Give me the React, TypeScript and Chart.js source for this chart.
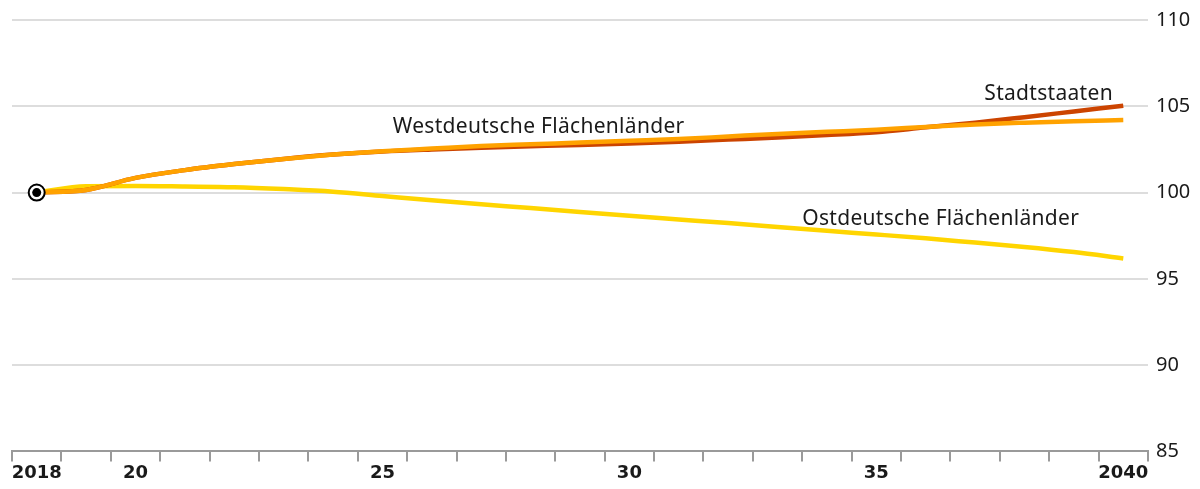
import React, { useEffect, useRef } from "react";
import { Chart, registerables } from "chart.js";

Chart.register(...registerables);

const years = [
  "2018", "2019", "2020", "2021", "2022", "2023", "2024", "2025", "2026", "2027", "2028", "2029",
  "2030", "2031", "2032", "2033", "2034", "2035", "2036", "2037", "2038", "2039", "2040",
];
const xTickLabels: Record<string, string> = {
  "2018": "2018", "2020": "20", "2025": "25", "2030": "30", "2035": "35", "2040": "2040",
};

const westdeutsche = [
  100, 100.15, 100.85, 101.3, 101.65, 101.95, 102.2, 102.4, 102.55, 102.7, 102.8, 102.9,
  103.0, 103.1, 103.25, 103.4, 103.52, 103.64, 103.8, 103.95, 104.05, 104.13, 104.2,
];
const stadtstaaten = [
  100, 100.15, 100.85, 101.3, 101.65, 101.95, 102.2, 102.38, 102.5, 102.6, 102.68, 102.76,
  102.85, 102.95, 103.07, 103.19, 103.33, 103.5, 103.78, 104.05, 104.37, 104.7, 105.03,
];
const ostdeutsche = [
  100, 100.37, 100.38, 100.35, 100.31, 100.2, 100.05, 99.8, 99.55, 99.32, 99.1, 98.87,
  98.65, 98.44, 98.23, 98.0, 97.78, 97.57, 97.35, 97.1, 96.85, 96.55, 96.18,
];

const yMin = 85;
const yMax = 110;
const yStep = 5;

// label anchors in data coordinates (category index, value) at text baseline
const seriesLabels = [
  { text: "Westdeutsche Flächenländer", x: 7.21, y: 103.47, align: "left" },
  { text: "Stadtstaaten", x: 21.79, y: 105.34, align: "right" },
  { text: "Ostdeutsche Flächenländer", x: 15.5, y: 98.11, align: "left" },
];

const FONT = "'Noto Sans', sans-serif";

const overlayPlugin = {
  id: "overlay",
  afterDatasetsDraw(chart: any) {
    const ctx = chart.ctx;
    const xs = chart.scales.x;
    const ys = chart.scales.y;
    ctx.save();
    ctx.fillStyle = "#1a1a1a";
    ctx.font = `21px ${FONT}`;
    (ctx as any).letterSpacing = "0.3px";
    ctx.textBaseline = "alphabetic";
    for (const l of seriesLabels) {
      ctx.textAlign = l.align as CanvasTextAlign;
      ctx.fillText(l.text, xs.getPixelForValue(l.x), ys.getPixelForValue(l.y));
    }
    (ctx as any).letterSpacing = "0px";
    const px = xs.getPixelForValue(0);
    const py = ys.getPixelForValue(westdeutsche[0]);
    ctx.beginPath();
    ctx.arc(px, py, 8, 0, Math.PI * 2);
    ctx.fillStyle = "#ffffff";
    ctx.fill();
    ctx.lineWidth = 2;
    ctx.strokeStyle = "#000000";
    ctx.stroke();
    ctx.beginPath();
    ctx.arc(px, py, 4.5, 0, Math.PI * 2);
    ctx.fillStyle = "#000000";
    ctx.fill();
    ctx.restore();
  },
};

export default function App() {
  const ref = useRef<HTMLCanvasElement>(null);
  useEffect(() => {
    document.body.style.margin = "0";
    const chart = new Chart(ref.current!, {
      type: "line",
      data: {
        labels: years,
        datasets: [
          {
            label: "Westdeutsche Flächenländer",
            data: westdeutsche,
            borderColor: "#ffa200",
            borderWidth: 4.5,
            pointRadius: 0,
            cubicInterpolationMode: "monotone",
          },
          {
            label: "Stadtstaaten",
            data: stadtstaaten,
            borderColor: "#cc4400",
            borderWidth: 4.5,
            pointRadius: 0,
            cubicInterpolationMode: "monotone",
          },
          {
            label: "Ostdeutsche Flächenländer",
            data: ostdeutsche,
            borderColor: "#ffd500",
            borderWidth: 4.5,
            pointRadius: 0,
            cubicInterpolationMode: "monotone",
          },
        ],
      },
      options: {
        animation: false,
        responsive: false,
        maintainAspectRatio: false,
        layout: { padding: { top: 20, left: 12, right: 1.7, bottom: 4 } },
        plugins: { legend: { display: false }, tooltip: { enabled: false } },
        scales: {
          x: {
            type: "category",
            offset: true,
            grid: {
              offset: true,
              drawOnChartArea: false,
              drawTicks: true,
              tickLength: 10,
              color: "#9a9a9a",
              lineWidth: 2,
            },
            border: { display: true, color: "#9a9a9a", width: 2 },
            ticks: {
              autoSkip: false,
              maxRotation: 0,
              padding: 1,
              color: "#1a1a1a",
              font: { family: "'DejaVu Sans', sans-serif", size: 18, weight: "bold" },
              callback: (_v: any, i: number) => xTickLabels[years[i]] ?? "",
            },
          },
          y: {
            position: "right",
            min: yMin,
            max: yMax,
            grid: { color: "#dddddd", lineWidth: 2, drawTicks: false },
            border: { display: false },
            ticks: {
              stepSize: yStep,
              padding: 8,
              color: "#1a1a1a",
              font: { family: FONT, size: 20 },
            },
          },
        },
      },
      plugins: [overlayPlugin],
    });
    return () => chart.destroy();
  }, []);
  return (
    <div style={{ width: 1200, height: 489 }}>
      <canvas ref={ref} width={1200} height={489} style={{ display: "block" }} />
    </div>
  );
}
